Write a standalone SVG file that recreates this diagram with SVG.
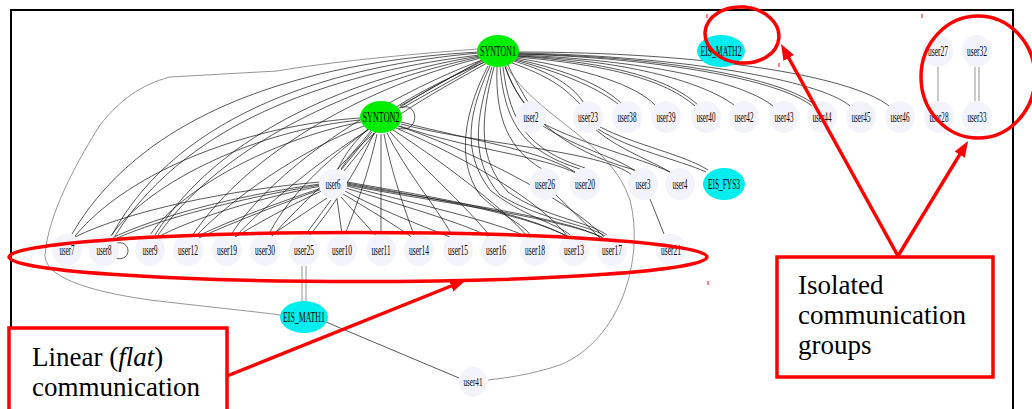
<svg xmlns="http://www.w3.org/2000/svg" width="1032" height="409" viewBox="0 0 1032 409">
<style>
.e{fill:none;stroke:#111;stroke-width:0.7}
.g{fill:none;stroke:#7a7a7a;stroke-width:0.8}
.u{fill:#f3f3fc}
.s{fill:#00ee00}
.c{fill:#00eeee}
.t{font-family:"Liberation Serif",serif;font-size:14px;text-anchor:middle;fill:#000}
.red{fill:none;stroke:#ff0000;stroke-width:3.5}
.big{font-family:"Liberation Serif",serif;font-size:27px;fill:#000}
.tick{stroke:#ff0000;stroke-width:1}
</style>
<defs>
<marker id="ah" markerUnits="userSpaceOnUse" markerWidth="16" markerHeight="12" viewBox="0 0 16 12" refX="4" refY="6" orient="auto">
<path d="M0,0 L16,6 L0,12 z" fill="#ff0000"/>
</marker>
</defs>
<rect x="11" y="10" width="1002" height="430" fill="#fff" stroke="#000" stroke-width="2"/>
<g id="connectors">
<path class="g" d="M478,49 C400,55 330,62 277,71 L170,77 C140,85 120,100 100,125 C75,165 48,215 45,255 C45,275 80,290 150,300 C200,306 250,311 281,315"/>
<path class="e" d="M479,52 C330,60 150,100 72,234"/>
<path class="e" d="M479,53 C340,65 180,110 112,235"/>
<path class="e" d="M480,55 C350,70 190,115 115,236"/>
<path class="e" d="M480,56 C360,75 220,130 155,235"/>
<path class="e" d="M480,57 C370,80 230,135 158,235"/>
<path class="e" d="M481,58 C370,85 250,150 192,236"/>
<path class="e" d="M482,60 C390,95 280,160 230,236"/>
<path class="e" d="M483,61 C400,100 300,170 268,236"/>
<path class="e" d="M485,62 C420,90 360,120 338,169"/>
<path class="e" d="M487,63 C430,95 365,130 341,169"/>
<path class="e" d="M482,60 L400,106"/>
<path class="e" d="M484,62 L402,108"/>
<path class="e" d="M488,66 C465,110 455,160 480,195 C500,215 525,225 530,235"/>
<path class="e" d="M490,66 C470,110 460,150 490,190 C520,215 560,225 570,235"/>
<path class="e" d="M492,67 C475,120 470,160 500,195 C540,220 590,225 605,236"/>
<path class="e" d="M494,67 C480,120 478,160 508,192 C545,218 592,222 608,236"/>
<path class="e" d="M497,67 C495,120 510,150 542,169"/>
<path class="e" d="M500,67 C505,120 520,150 580,169"/>
<path class="e" d="M503,67 C510,125 530,150 585,168"/>
<path class="e" d="M505,67 C520,110 560,150 635,170"/>
<path class="e" d="M505,66 C512,85 518,95 524,103"/>
<path class="e" d="M508,65 C515,80 522,92 528,102"/>
<path class="e" d="M512,63 C560,80 570,95 580,104"/>
<path class="e" d="M514,61 C560,75 575,90 584,103"/>
<path class="e" d="M515,60 C570,75 600,90 618,104"/>
<path class="e" d="M515,59 C575,72 605,88 621,103"/>
<path class="e" d="M516,58 C590,70 635,85 655,105"/>
<path class="e" d="M517,57 C610,65 665,80 695,106"/>
<path class="e" d="M517,56 C612,63 668,78 698,105"/>
<path class="e" d="M518,56 C620,60 700,80 734,105"/>
<path class="e" d="M518,55 C640,60 740,80 773,106"/>
<path class="e" d="M518,54 C660,58 780,80 812,106"/>
<path class="e" d="M518,54 C662,56 782,78 815,105"/>
<path class="e" d="M518,53 C680,56 820,80 850,106"/>
<path class="e" d="M518,52 C700,52 850,75 889,106"/>
<path class="g" d="M506,66 C540,120 610,140 630,200 C645,260 620,340 560,365 C530,375 505,378 488,380"/>
<path class="e" d="M543,126 C580,150 620,158 636,172"/>
<path class="e" d="M544,124 C585,145 640,158 670,172"/>
<path class="e" d="M596,130 C620,150 650,160 670,172"/>
<path class="e" d="M598,129 C630,150 680,160 706,172"/>
<path class="e" d="M600,127 C635,145 685,155 708,170"/>
<path class="e" d="M401,122 C470,140 540,150 575,172"/>
<path class="e" d="M401,124 C480,145 600,150 632,175"/>
<path class="e" d="M400,126 C470,150 540,155 578,174"/>
<path class="e" d="M360,118 C250,125 130,170 75,236"/>
<path class="e" d="M360,120 C260,130 150,180 110,237"/>
<path class="e" d="M361,122 C270,140 180,190 150,235"/>
<path class="e" d="M364,126 C300,150 230,200 195,237"/>
<path class="e" d="M368,130 C320,160 260,210 235,237"/>
<path class="e" d="M372,132 L341,170"/>
<path class="e" d="M375,133 L344,171"/>
<path class="e" d="M371,131 C340,170 300,205 272,236"/>
<path class="e" d="M374,133 C355,175 330,210 310,235"/>
<path class="e" d="M377,134 C368,175 355,210 345,234"/>
<path class="e" d="M381,134 L381,234"/>
<path class="e" d="M384,134 C392,175 405,210 414,235"/>
<path class="e" d="M387,133 C405,170 435,205 452,235"/>
<path class="e" d="M390,132 C420,165 465,205 490,236"/>
<path class="e" d="M393,130 C440,160 500,205 528,237"/>
<path class="e" d="M396,128 C460,155 540,200 568,237"/>
<path class="e" d="M398,126 C470,150 570,200 605,238"/>
<path class="e" d="M400,108 C420,100 420,135 398,128"/>
<path class="e" d="M320,182 C230,190 130,210 75,237"/>
<path class="e" d="M320,184 C240,195 160,215 112,238"/>
<path class="e" d="M320,185 C242,198 162,218 115,239"/>
<path class="e" d="M321,186 C250,200 190,220 158,237"/>
<path class="e" d="M322,188 C270,205 220,225 196,237"/>
<path class="e" d="M322,189 C272,207 222,227 199,238"/>
<path class="e" d="M324,190 C290,205 255,225 235,237"/>
<path class="e" d="M347,182 C420,195 520,210 568,237"/>
<path class="e" d="M347,183 C422,197 522,212 571,238"/>
<path class="e" d="M347,184 C430,200 560,215 603,238"/>
<path class="e" d="M347,185 C432,202 562,217 606,239"/>
<path class="e" d="M347,186 C420,205 490,220 528,237"/>
<path class="e" d="M346,188 C400,205 460,222 490,237"/>
<path class="e" d="M345,191 C380,210 420,225 450,237"/>
<path class="e" d="M343,194 C370,210 395,225 413,238"/>
<path class="e" d="M341,197 L376,236"/>
<path class="e" d="M337,199 L342,234"/>
<path class="e" d="M331,200 L306,234"/>
<path class="e" d="M327,198 L270,236"/>
<path class="e" d="M117,243 C132,240 132,263 115,258"/>
<path class="g" d="M302,266 L302,301"/>
<path class="g" d="M306,266 L306,301"/>
<path class="e" d="M326,322 L459,378"/>
<path class="e" d="M556,195 L600,238"/>
<path class="e" d="M650,199 L664,234"/>
<path class="g" d="M938,67 L938,101"/>
<path class="g" d="M975,67 L975,101"/>
<path class="g" d="M979,67 L979,101"/>
</g>
<g id="SYNTON1"><ellipse class="s" cx="498" cy="51" rx="21" ry="16"/><text class="t" x="498" y="56" textLength="36" lengthAdjust="spacingAndGlyphs">SYNTON1</text></g>
<g id="SYNTON2"><ellipse class="s" cx="381" cy="117" rx="21" ry="16"/><text class="t" x="381" y="122" textLength="37" lengthAdjust="spacingAndGlyphs">SYNTON2</text></g>
<g id="EIS_MATH2"><ellipse class="c" cx="721" cy="51" rx="24" ry="16"/><text class="t" x="721" y="56" textLength="41" lengthAdjust="spacingAndGlyphs">EIS_MATH2</text></g>
<g id="EIS_FYS3"><ellipse class="c" cx="724" cy="184" rx="21" ry="16"/><text class="t" x="724" y="189" textLength="32" lengthAdjust="spacingAndGlyphs">EIS_FYS3</text></g>
<g id="EIS_MATH1"><ellipse class="c" cx="304" cy="317" rx="24" ry="16"/><text class="t" x="304" y="322" textLength="42" lengthAdjust="spacingAndGlyphs">EIS_MATH1</text></g>
<g id="user27"><ellipse class="u" cx="938" cy="51" rx="15" ry="16"/><text class="t" x="938" y="56" textLength="20" lengthAdjust="spacingAndGlyphs">user27</text></g>
<g id="user32"><ellipse class="u" cx="977" cy="51" rx="15" ry="16"/><text class="t" x="977" y="56" textLength="20" lengthAdjust="spacingAndGlyphs">user32</text></g>
<g id="user2"><ellipse class="u" cx="531" cy="117" rx="15" ry="16"/><text class="t" x="531" y="122" textLength="15" lengthAdjust="spacingAndGlyphs">user2</text></g>
<g id="user23"><ellipse class="u" cx="588" cy="117" rx="15" ry="16"/><text class="t" x="588" y="122" textLength="20" lengthAdjust="spacingAndGlyphs">user23</text></g>
<g id="user38"><ellipse class="u" cx="627" cy="117" rx="15" ry="16"/><text class="t" x="627" y="122" textLength="19" lengthAdjust="spacingAndGlyphs">user38</text></g>
<g id="user39"><ellipse class="u" cx="666" cy="117" rx="15" ry="16"/><text class="t" x="666" y="122" textLength="19" lengthAdjust="spacingAndGlyphs">user39</text></g>
<g id="user40"><ellipse class="u" cx="706" cy="117" rx="15" ry="16"/><text class="t" x="706" y="122" textLength="19" lengthAdjust="spacingAndGlyphs">user40</text></g>
<g id="user42"><ellipse class="u" cx="744" cy="117" rx="15" ry="16"/><text class="t" x="744" y="122" textLength="19" lengthAdjust="spacingAndGlyphs">user42</text></g>
<g id="user43"><ellipse class="u" cx="784" cy="117" rx="15" ry="16"/><text class="t" x="784" y="122" textLength="19" lengthAdjust="spacingAndGlyphs">user43</text></g>
<g id="user44"><ellipse class="u" cx="822" cy="117" rx="15" ry="16"/><text class="t" x="822" y="122" textLength="19" lengthAdjust="spacingAndGlyphs">user44</text></g>
<g id="user45"><ellipse class="u" cx="861" cy="117" rx="15" ry="16"/><text class="t" x="861" y="122" textLength="19" lengthAdjust="spacingAndGlyphs">user45</text></g>
<g id="user46"><ellipse class="u" cx="900" cy="117" rx="15" ry="16"/><text class="t" x="900" y="122" textLength="19" lengthAdjust="spacingAndGlyphs">user46</text></g>
<g id="user28"><ellipse class="u" cx="939" cy="117" rx="15" ry="16"/><text class="t" x="939" y="122" textLength="19" lengthAdjust="spacingAndGlyphs">user28</text></g>
<g id="user33"><ellipse class="u" cx="977" cy="117" rx="15" ry="16"/><text class="t" x="977" y="122" textLength="19" lengthAdjust="spacingAndGlyphs">user33</text></g>
<g id="user6"><ellipse class="u" cx="333" cy="184" rx="14" ry="15"/><text class="t" x="333" y="189" textLength="15" lengthAdjust="spacingAndGlyphs">user6</text></g>
<g id="user26"><ellipse class="u" cx="545" cy="184" rx="15" ry="16"/><text class="t" x="545" y="189" textLength="20" lengthAdjust="spacingAndGlyphs">user26</text></g>
<g id="user20"><ellipse class="u" cx="585" cy="184" rx="15" ry="16"/><text class="t" x="585" y="189" textLength="20" lengthAdjust="spacingAndGlyphs">user20</text></g>
<g id="user3"><ellipse class="u" cx="643" cy="184" rx="15" ry="16"/><text class="t" x="643" y="189" textLength="15" lengthAdjust="spacingAndGlyphs">user3</text></g>
<g id="user4"><ellipse class="u" cx="680" cy="184" rx="15" ry="16"/><text class="t" x="680" y="189" textLength="15" lengthAdjust="spacingAndGlyphs">user4</text></g>
<g id="user7"><ellipse class="u" cx="67" cy="250" rx="15" ry="16"/><text class="t" x="67" y="255" textLength="15" lengthAdjust="spacingAndGlyphs">user7</text></g>
<g id="user8"><ellipse class="u" cx="104" cy="250" rx="15" ry="16"/><text class="t" x="104" y="255" textLength="15" lengthAdjust="spacingAndGlyphs">user8</text></g>
<g id="user9"><ellipse class="u" cx="150" cy="250" rx="15" ry="16"/><text class="t" x="150" y="255" textLength="15" lengthAdjust="spacingAndGlyphs">user9</text></g>
<g id="user12"><ellipse class="u" cx="188" cy="250" rx="15" ry="16"/><text class="t" x="188" y="255" textLength="20" lengthAdjust="spacingAndGlyphs">user12</text></g>
<g id="user19"><ellipse class="u" cx="227" cy="250" rx="15" ry="16"/><text class="t" x="227" y="255" textLength="20" lengthAdjust="spacingAndGlyphs">user19</text></g>
<g id="user30"><ellipse class="u" cx="265" cy="250" rx="15" ry="16"/><text class="t" x="265" y="255" textLength="20" lengthAdjust="spacingAndGlyphs">user30</text></g>
<g id="user25"><ellipse class="u" cx="304" cy="250" rx="15" ry="16"/><text class="t" x="304" y="255" textLength="20" lengthAdjust="spacingAndGlyphs">user25</text></g>
<g id="user10"><ellipse class="u" cx="342" cy="250" rx="15" ry="16"/><text class="t" x="342" y="255" textLength="20" lengthAdjust="spacingAndGlyphs">user10</text></g>
<g id="user11"><ellipse class="u" cx="381" cy="250" rx="15" ry="16"/><text class="t" x="381" y="255" textLength="19" lengthAdjust="spacingAndGlyphs">user11</text></g>
<g id="user14"><ellipse class="u" cx="419" cy="250" rx="15" ry="16"/><text class="t" x="419" y="255" textLength="20" lengthAdjust="spacingAndGlyphs">user14</text></g>
<g id="user15"><ellipse class="u" cx="458" cy="250" rx="15" ry="16"/><text class="t" x="458" y="255" textLength="20" lengthAdjust="spacingAndGlyphs">user15</text></g>
<g id="user16"><ellipse class="u" cx="496" cy="250" rx="15" ry="16"/><text class="t" x="496" y="255" textLength="20" lengthAdjust="spacingAndGlyphs">user16</text></g>
<g id="user18"><ellipse class="u" cx="535" cy="250" rx="15" ry="16"/><text class="t" x="535" y="255" textLength="20" lengthAdjust="spacingAndGlyphs">user18</text></g>
<g id="user13"><ellipse class="u" cx="574" cy="250" rx="15" ry="16"/><text class="t" x="574" y="255" textLength="20" lengthAdjust="spacingAndGlyphs">user13</text></g>
<g id="user17"><ellipse class="u" cx="612" cy="250" rx="15" ry="16"/><text class="t" x="612" y="255" textLength="20" lengthAdjust="spacingAndGlyphs">user17</text></g>
<g id="user21"><ellipse class="u" cx="671" cy="250" rx="15" ry="16"/><text class="t" x="671" y="255" textLength="20" lengthAdjust="spacingAndGlyphs">user21</text></g>
<g id="user41"><ellipse class="u" cx="473" cy="382" rx="14" ry="15"/><text class="t" x="473" y="386" textLength="19" lengthAdjust="spacingAndGlyphs" style="font-size:12px">user41</text></g>
<g id="annotations">
<ellipse class="red" cx="358" cy="257" rx="349" ry="24.5"/>
<ellipse class="red" cx="742" cy="35" rx="37" ry="28" transform="rotate(5 742 35)"/>
<ellipse class="red" cx="978" cy="77" rx="57" ry="61"/>
<line class="tick" x1="707" y1="14" x2="707" y2="18"/>
<line class="tick" x1="922" y1="14" x2="922" y2="18"/>
<line class="tick" x1="779" y1="63" x2="779" y2="67"/>
<line class="tick" x1="708" y1="281" x2="708" y2="285"/>
<path class="red" d="M898,256 L786.8,54.5" marker-end="url(#ah)"/>
<path class="red" d="M898,256 L961.8,151.2" marker-end="url(#ah)"/>
<path class="red" d="M227,376 L454.9,284.5" marker-end="url(#ah)"/>
</g>
<g id="box-isolated">
<rect class="red" x="777" y="257" width="216" height="120" style="fill:#fff"/>
<text class="big" x="798" y="294">Isolated</text>
<text class="big" x="798" y="324">communication</text>
<text class="big" x="798" y="354">groups</text>
</g>
<g id="box-linear">
<rect class="red" x="9" y="328" width="218" height="100" style="fill:#fff"/>
<text class="big" x="32" y="366">Linear (<tspan font-style="italic">flat</tspan>)</text>
<text class="big" x="32" y="396">communication</text>
</g>
</svg>
